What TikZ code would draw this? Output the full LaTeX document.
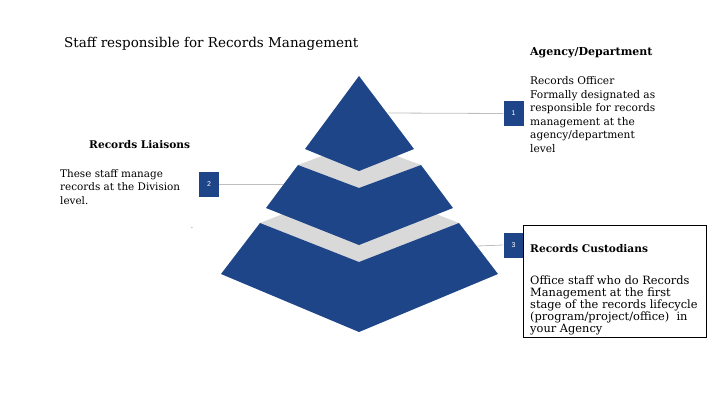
\documentclass[tikz,border=0pt]{standalone}
\usepackage{fontspec}
\setmainfont{DejaVu Serif}
\setsansfont{Liberation Sans}
\definecolor{pblue}{RGB}{30,69,135}
\definecolor{pgray}{RGB}{217,217,217}
\definecolor{lgray}{RGB}{190,190,190}
\begin{document}
\begin{tikzpicture}[x=1pt,y=-1pt,
  numbox/.style={fill=pblue,text=white,minimum width=20pt,minimum height=25pt,inner sep=0pt,font=\sffamily\fontsize{7}{8}\selectfont},
  conn/.style={draw=lgray,line width=0.8pt},
  bodytxt/.style={anchor=north west,inner sep=0pt,align=left,font=\fontsize{10.5}{13.5}\selectfont},
  headtxt/.style={anchor=west,inner sep=0pt,font=\bfseries\fontsize{10.6}{12}\selectfont}]
\useasboundingbox (0,0) rectangle (720,405);
% pyramid
\fill[pgray] (260,223) -- (359,184) -- (459,223) -- (359,262) -- cycle;
\fill[pblue] (260,223) -- (359,262) -- (459,223) -- (498,274) -- (359,332) -- (221,274) -- cycle;
\fill[pgray] (298,165) -- (359,142) -- (421,165) -- (359,188) -- cycle;
\fill[pblue] (298,165) -- (359,188) -- (421,165) -- (453,208) -- (359,245) -- (266,208) -- cycle;
\fill[pblue] (359,76) -- (414,149) -- (359,171) -- (305,149) -- cycle;
\coordinate (c1) at (388,113);
\coordinate (c2) at (283,184);
\coordinate (c3) at (477,246);
% number boxes
\node[numbox] (b1) at (513.5,113.5) {1};
\node[numbox] (b2) at (209,184) {2};
\node[numbox] (b3) at (513.5,245) {3};
\draw[conn] (c1) -- (b1.west);
\draw[conn] (b2.east) -- (c2);
\draw[conn] (c3) -- (b3.west);
% custodian box
\node[draw=black,line width=0.6pt,minimum width=183pt,minimum height=112pt,inner sep=0pt,anchor=north west] (cbox) at (523,225) {};
% texts
\node[anchor=west,inner sep=0pt,font=\fontsize{13.5}{16}\selectfont] (title) at (64,44) {Staff responsible for Records Management};
\node[headtxt,font=\bfseries\fontsize{11}{12}\selectfont] (agency) at (530,53) {Agency/Department};
\node[bodytxt,font=\fontsize{10.6}{13.5}\selectfont] (officer) at (530,76.5) {Records Officer\\Formally designated as\\responsible for records\\management at the\\agency/department\\level};
\node[headtxt] (liaisons) at (89,145) {Records Liaisons};
\node[bodytxt,font=\fontsize{10.4}{13.5}\selectfont] (liaisontxt) at (60,169) {These staff manage\\records at the Division\\level.};
\node[inner sep=0pt,font=\fontsize{6}{7}\selectfont] (dot) at (192,228) {.};
\node[headtxt] (cust) at (530,249) {Records Custodians};
\node[bodytxt,font=\fontsize{11.4}{12}\selectfont] (custtxt) at (530,275.5) {Office staff who do Records\\Management at the first\\stage of the records lifecycle\\(program/project/office)\ \ in\\your Agency};
\end{tikzpicture}
\end{document}
